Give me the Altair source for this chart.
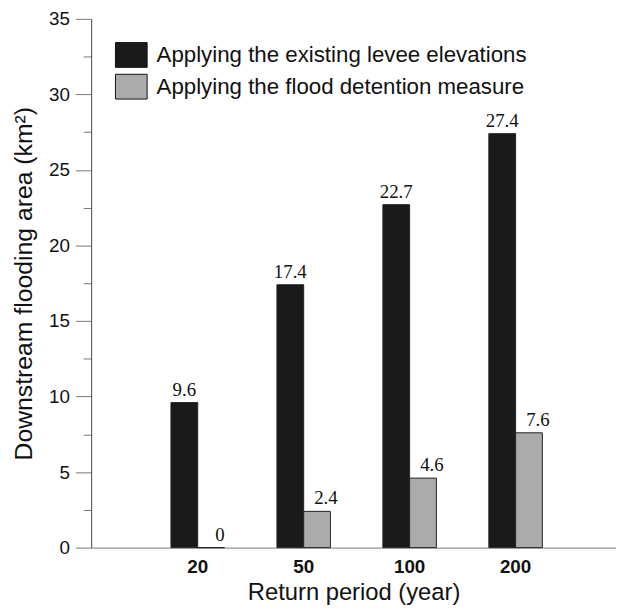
import altair as alt
import pandas as pd

periods = ["20", "50", "100", "200"]
series = ["Applying the existing levee elevations", "Applying the flood detention measure"]
existing = [9.6, 17.4, 22.7, 27.4]
detention = [0, 2.4, 4.6, 7.6]
y_ticks = [0, 2.5, 5, 7.5, 10, 12.5, 15, 17.5, 20, 22.5, 25, 27.5, 30, 32.5, 35]

rows = []
for p, a, b in zip(periods, existing, detention):
    rows.append({"period": p, "series": series[0], "value": a})
    rows.append({"period": p, "series": series[1], "value": b})
df = pd.DataFrame(rows)

x_enc = alt.X("period:N", sort=periods,
              scale=alt.Scale(paddingInner=0.495, paddingOuter=0.724, align=0.52),
              axis=alt.Axis(title="Return period (year)", labelAngle=0, labelFontWeight="bold",
                            labelFontSize=19, labelPadding=10, ticks=False,
                            domainColor="#777777", titleFontSize=24, titleFontWeight="normal",
                            titlePadding=4))
xo_enc = alt.XOffset("series:N", sort=series,
                     scale=alt.Scale(paddingInner=0, paddingOuter=0))
y_enc = alt.Y("value:Q", scale=alt.Scale(domain=[0, 35], nice=False),
              axis=alt.Axis(title="Downstream flooding area (km²)", values=y_ticks,
                            labelExpr="datum.value % 5 === 0 ? datum.label : ''",
                            tickSize={"condition": {"test": "datum.value % 5 === 0", "value": 16}, "value": 8},
                            labelFontSize=19, labelPadding=6, grid=False,
                            domainColor="#444444", tickColor="#777777",
                            titleFontSize=25, titleFontWeight="normal", titlePadding=12))

bars = alt.Chart(df).mark_bar(stroke="#222222", strokeWidth=1).encode(
    x=x_enc, xOffset=xo_enc, y=y_enc,
    color=alt.Color("series:N", sort=series,
                    scale=alt.Scale(domain=series, range=["#1a1a1a", "#ababab"]),
                    legend=alt.Legend(title=None, orient="none", legendX=26, legendY=22,
                                      symbolType="M-1.143,-0.893H1.143V0.893H-1.143Z",
                                      symbolSize=784, symbolStrokeColor="#111111",
                                      symbolStrokeWidth=1, symbolOpacity=1,
                                      labelFontSize=22.5, labelOffset=11, rowPadding=1,
                                      labelLimit=0,
                                      labelFont="Liberation Sans", labelColor="#111111",
                                      padding=0)),
)

text_a = alt.Chart(df).transform_filter(alt.datum.series == series[0]).mark_text(
    font="Liberation Serif", fontSize=19, baseline="bottom", dy=-3, color="#111111"
).encode(x=x_enc, xOffset=xo_enc, y=y_enc, text=alt.Text("value:Q"))

text_b = alt.Chart(df).transform_filter(alt.datum.series == series[1]).mark_text(
    font="Liberation Serif", fontSize=19, baseline="bottom", dy=-3, dx=9, color="#111111"
).encode(x=x_enc, xOffset=xo_enc, y=y_enc, text=alt.Text("value:Q"))

chart = alt.layer(bars, text_a, text_b).properties(
    width=530, height=534,
    padding={"left": 84, "top": 8, "right": 0, "bottom": 55},
    autosize="none",
).configure_view(stroke=None).configure_axis(
    labelFont="Liberation Sans", titleFont="Liberation Sans",
    labelColor="#111111", titleColor="#111111"
)

chart.save("out.html", embed_options={"renderer": "svg", "actions": False})
